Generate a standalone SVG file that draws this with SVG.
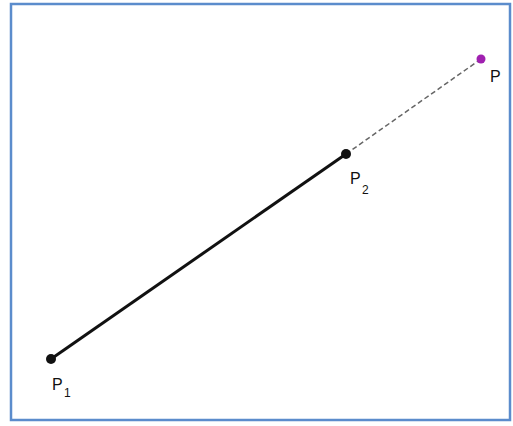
<svg xmlns="http://www.w3.org/2000/svg" width="513" height="426" viewBox="0 0 513 426">
<style>
.lbl{font-family:"Liberation Sans",Arial,sans-serif;font-size:16px;fill:#111}
.sub{font-family:"Liberation Sans",Arial,sans-serif;font-size:12px;fill:#111}
</style>
<rect x="0" y="0" width="513" height="426" fill="#fff"/>
<rect x="11" y="4" width="499" height="416" fill="#fff" stroke="#5b8ccc" stroke-width="2.5"/>
<g id="connectors">
<line x1="51" y1="359" x2="346" y2="154" stroke="#111" stroke-width="3"/>
<line x1="346" y1="154" x2="481" y2="59" stroke="#666" stroke-width="1.5" stroke-dasharray="5,3"/>
</g>
<g id="P1">
<circle cx="51" cy="359" r="5" fill="#111"/>
<text class="lbl" x="52" y="390">P</text><text class="sub" x="64" y="397">1</text>
</g>
<g id="P2">
<circle cx="346" cy="154" r="5" fill="#111"/>
<text class="lbl" x="350" y="184">P</text><text class="sub" x="362" y="194">2</text>
</g>
<g id="P">
<circle cx="481" cy="59" r="4.5" fill="#a020b0"/>
<text class="lbl" x="490" y="82">P</text>
</g>
</svg>
